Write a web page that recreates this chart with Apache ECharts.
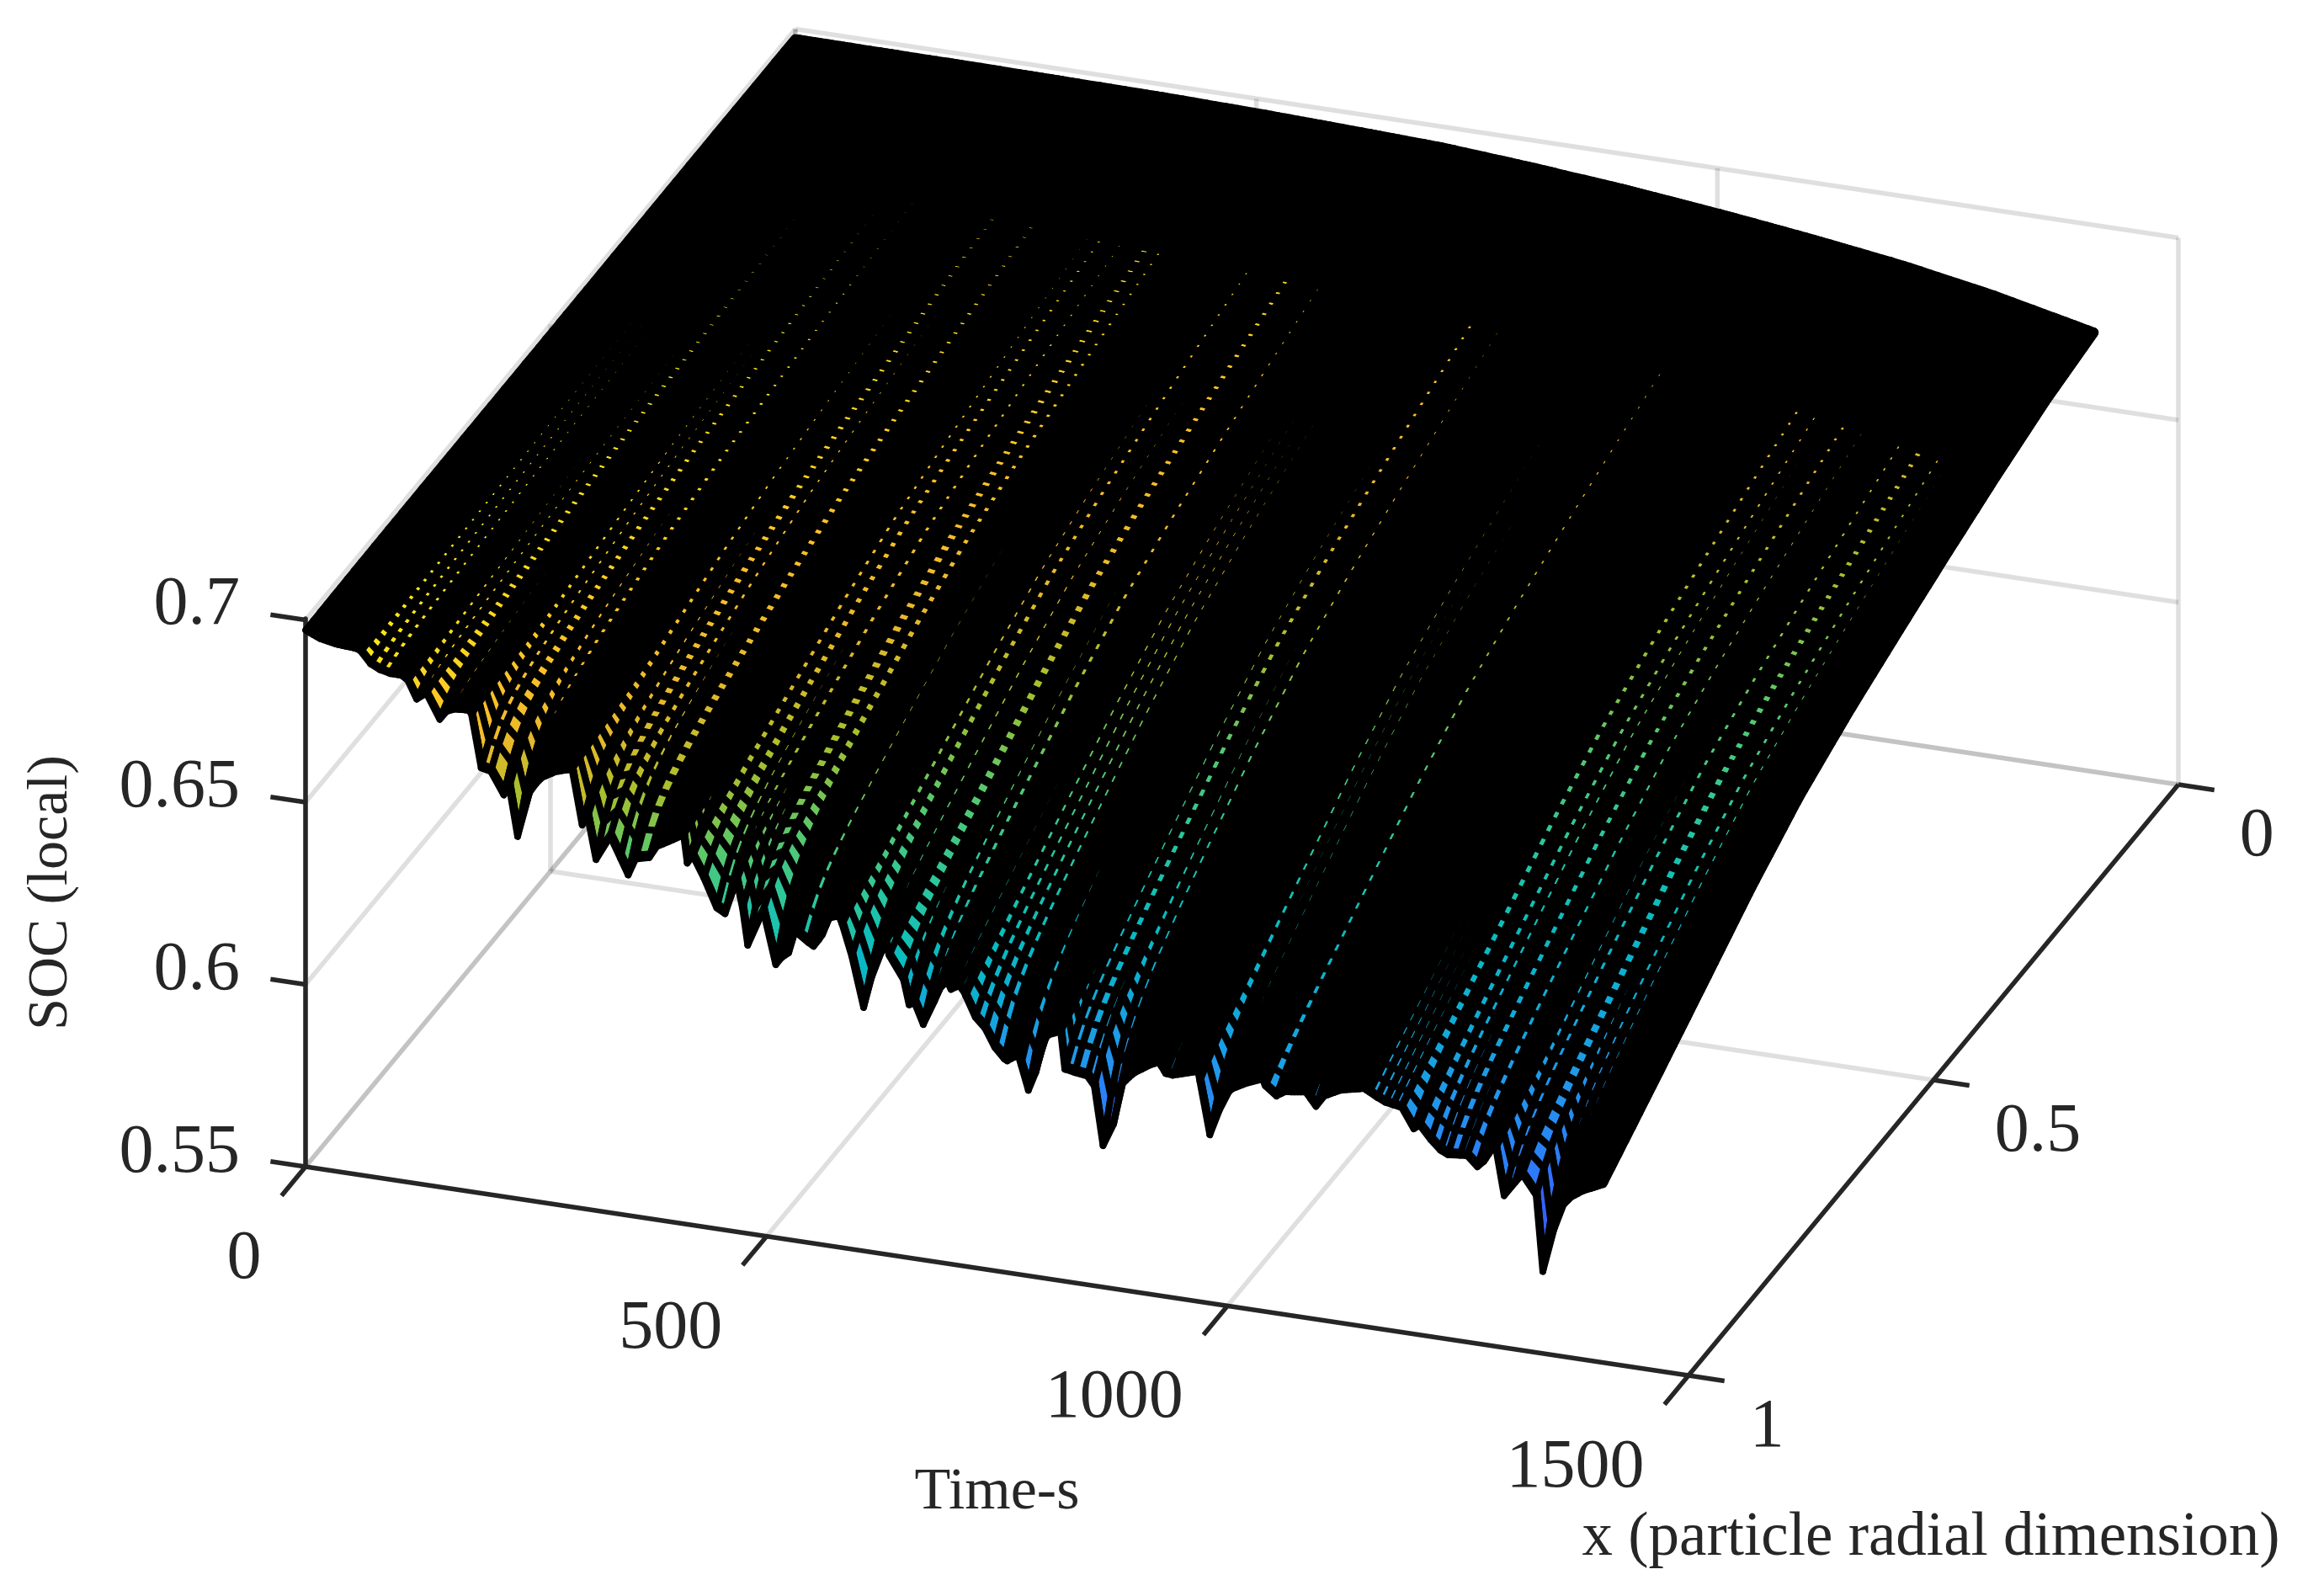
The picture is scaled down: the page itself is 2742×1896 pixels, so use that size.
<!DOCTYPE html>
<html><head><meta charset="utf-8"><style>html,body{margin:0;padding:0;background:#fff}#c{width:2742px;height:1896px}</style>
<script src="https://cdn.jsdelivr.net/npm/echarts@6/dist/echarts.min.js"></script></head><body><div id="c"></div>
<script>
// ---- values ----
const timeTicks=[0,500,1000,1500];
const radialTicks=[0,0.5,1];
const socTicks=[0.55,0.6,0.65,0.7];
// SOC along the particle surface x=1 (the jagged front edge)
const edgeTime=[0,15.5,34,55,60,66,79,92,105,111,117.5,120.5,131,134,139,145.5,155.5,177,180,184.5,189.5,198,209,215,221,225.5,230,236,245,256,271,289,294,300,306,311,315,321,330.5,335,346,350,358,365.5,378,393,410,414,420,429,437,446,451,455,463,467.5,472,479.6,482.7,487,496.4,505.5,510,513,517.7,524,531,542,551,560,568,578.6,587.7,597,605.3,607.5,615,629,633.5,639.5,644,648.5,654.6,660.7,670,680.5,688,694,696,700,709,715.5,718.5,727.6,739.8,744,749,761,773,784,787,797.6,803.7,819,823.5,834,843,848,851,855.5,860,865,873.7,880,883,898,916,925.5,933,940.7,968,971,975.7,980.8,983,989.5,997,1004.6,1020,1038,1044,1053,1062,1085,1096,1105,1123,1148,1169,1189,1193,1202,1208.5,1216,1224,1239,1260,1271,1275.5,1287.7,1291,1300,1303,1316.6,1319.6,1325.7,1328.7,1334.8,1339,1342,1344,1348.5,1357.6,1363.7,1372.8,1385,1408];
const edgeSoc=[.6972,.6955,.6946,.6943,.6937,.6913,.6895,.6888,.6888,.6876,.6836,.6829,.6849,.6846,.6794,.6783,.6816,.682,.681,.6746,.6667,.6667,.6644,.6602,.6625,.6546,.6494,.6581,.6631,.6665,.6687,.6701,.6619,.6552,.6577,.6525,.6463,.6506,.6532,.6488,.6469,.6434,.6481,.6447,.652,.6541,.6567,.6491,.6513,.6462,.645,.638,.644,.6368,.6429,.6465,.6425,.6291,.6292,.6358,.6392,.6314,.6249,.6252,.628,.6287,.6349,.6328,.6315,.6347,.64,.6408,.6353,.6257,.6168,.6169,.6271,.6354,.6317,.6315,.6259,.6261,.6194,.6201,.6146,.6204,.6253,.6256,.6275,.6254,.6267,.6248,.6211,.6184,.6154,.6152,.6096,.6081,.6101,.6009,.601,.6118,.6167,.6184,.6082,.6078,.6062,.6072,.605,.6048,.599,.5888,.5905,.6011,.6058,.6099,.6129,.614,.6112,.611,.6131,.6092,.6009,.5962,.5966,.6022,.6075,.6097,.6118,.6137,.6101,.6096,.6111,.6119,.6084,.6116,.6139,.6153,.6125,.6116,.6073,.6063,.6075,.6062,.6023,.6006,.6011,.5985,.5992,.6043,.6044,.5917,.592,.5977,.5983,.589,.5891,.5931,.5763,.5725,.5728,.5805,.587,.5915,.5941,.5962,.5989];
// upper envelope of that edge, ignoring the spikes
const envelopeTime=[0,55,105,177,289,410,578,696,819,925,1038,1148,1240,1300,1408];
const envelopeSoc=[.6972,.6943,.6888,.682,.6701,.6567,.6408,.6275,.6184,.614,.6137,.6153,.608,.604,.5989];
// SOC along the particle centre x=0 (the far edge)
const backTime=[0,200,400,500,600,700,800,900,1000,1100,1200,1300,1408];
const backSoc=[.6972,.697,.6965,.696,.6952,.6943,.6925,.6903,.6876,.6845,.681,.6765,.6705];
// how the SOC falls from centre to surface (0 = centre value, 1 = surface value)
const radialX=[0,.1,.2,.3,.4,.5,.6,.7,.8,.9,1];
const radialFall=[0,.04,.1,.17,.245,.325,.42,.55,.70,.85,1];
// how far a surface spike reaches into the particle
const spikeX=[.4,.6,.7,.8,.85,.9,.92,.94,.96,.97,.98,.99,1];
const spikeShare=[0,.005,.015,.04,.07,.13,.18,.25,.37,.47,.6,.78,1];
// solver time steps: [from, to, step] (narrow steps close up to solid black)
const timeSteps=[[0,60,4],[60,92,10.5],[92,111,4],[111,162,10.5],[162,180,4],[180,250,10.5],[250,289,3.5],[289,381,10.5],[381,411,3.5],[411,524,10.5],[524,536,5],[536,557,9.5],[557,582,3.5],[582,625,10.5],[625,633,4],[633,682,10.5],[682,716,6.5],[716,761,10.5],[761,776,4],[776,792,10.5],[792,824,3.5],[824,886,10.5],[886,933,3.5],[933,947,8.5],[947,970,3.5],[970,1002,10.5],[1002,1041,3.5],[1041,1059,8.5],[1059,1090,3.5],[1090,1105,8.5],[1105,1154,3.5],[1154,1189,8.5],[1189,1260,10.5],[1260,1280,9],[1280,1291,3.5],[1291,1366,10.5],[1366,1408.01,3.5]];
const radialSteps=[[0,.2,.02],[.2,1.0001,.014]];
// mesh line weight, thinner where the surface is steep at the front edge
const lineX=[.2,.4,.5,.65,.8,.88,.93,.97,1];
const lineWeight=[12,11.2,10.8,10.45,10.25,9.8,9.2,8.6,8];
const socPalette=['#4040f0','#3c52fa','#3368fc','#2a80f8','#2296ec','#10abd8','#08bcc0','#2cc79c','#5ac86a','#aabf2c','#e6b92a','#ffc028','#fbe018','#f8f40c'];

// ---- view of the 3-D box on the page ----
const view={ox:363,oy:1386,tx:1643,ty:248,rx:582,ry:702,zScale:4330};
const timeMax=1500,socMin=.55,socMax=.7;
function project(t,x,z){
  return [view.ox+view.tx*t/timeMax+view.rx*(1-x), view.oy+view.ty*t/timeMax-view.ry*(1-x)-(z-socMin)*view.zScale];
}
function lookup(xs,ys,v){
  if(v<=xs[0])return ys[0];
  for(let i=1;i<xs.length;i++){ if(v<=xs[i]){const f=(v-xs[i-1])/(xs[i]-xs[i-1]);return ys[i-1]+f*(ys[i]-ys[i-1]);} }
  return ys[ys.length-1];
}
function expand(bands){const out=[];bands.forEach(b=>{for(let v=b[0];v<b[1]-1e-6;v+=b[2])out.push(+v.toFixed(4));});out.push(bands[bands.length-1][1]);return out;}
const meshT=expand(timeSteps), meshX=expand(radialSteps);
meshT[meshT.length-1]=1408; meshX[meshX.length-1]=1;
// keep the spike tips on a mesh line
for(let i=1;i<edgeTime.length-1;i++){
  const minimum=edgeSoc[i]<edgeSoc[i-1]&&edgeSoc[i]<edgeSoc[i+1];
  const maximum=edgeSoc[i]>edgeSoc[i-1]&&edgeSoc[i]>edgeSoc[i+1];
  if(minimum||maximum){
    let best=0,d=1e9;meshT.forEach((t,k)=>{const e=Math.abs(t-edgeTime[i]);if(e<d){d=e;best=k;}});
    if(d<6&&best>0&&best<meshT.length-1)meshT[best]=edgeTime[i];
  }
}
function soc(t,x){
  const back=lookup(backTime,backSoc,t), env=lookup(envelopeTime,envelopeSoc,t), edge=lookup(edgeTime,edgeSoc,t);
  return back-(back-env)*lookup(radialX,radialFall,x)+(edge-env)*lookup(spikeX,spikeShare,x);
}
const Z=meshX.map(x=>meshT.map(t=>soc(t,x)));
const cells=[];
for(let i=0;i<meshX.length-1;i++)for(let j=0;j<meshT.length-1;j++){
  const a=Z[i][j],b=Z[i][j+1],c=Z[i+1][j+1],d=Z[i+1][j];
  cells.push([meshT[j],meshT[j+1],meshX[i],meshX[i+1],a,b,c,d,(a+b+c+d)/4]);
}
// grid and box lines: [t0,x0,z0,t1,x1,z1]
const gridLines=[];
socTicks.forEach(z=>{gridLines.push([0,0,z,0,1,z]);gridLines.push([0,0,z,timeMax,0,z]);});
timeTicks.forEach(t=>{gridLines.push([t,0,socMin,t,0,socMax]);if(t>0&&t<timeMax)gridLines.push([t,0,socMin,t,1,socMin]);});
gridLines.push([0,0,socMin,0,1,socMin]);gridLines.push([0,0,socMin,timeMax,0,socMin]);
radialTicks.forEach(x=>{gridLines.push([0,x,socMin,0,x,socMax]);if(x===.5)gridLines.push([0,x,socMin,timeMax,x,socMin]);});
const axisLines=[[0,1,socMin,timeMax,1,socMin],[timeMax,0,socMin,timeMax,1,socMin]];
timeTicks.forEach(t=>axisLines.push([t,1,socMin,t,1.049,socMin]));
radialTicks.forEach(x=>axisLines.push([timeMax,x,socMin,timeMax+39,x,socMin]));
socTicks.forEach(z=>axisLines.push([0,1,z,-38,1,z]));
const font='"Liberation Serif","Times New Roman",serif';
const texts=[];
timeTicks.forEach(t=>texts.push({text:String(t),p:[t,1.049,socMin],dx:-24,dy:76,align:'right',size:82}));
radialTicks.forEach(x=>texts.push({text:String(x),p:[timeMax+39,x,socMin],dx:30,dy:56,align:'left',size:82}));
texts.push({text:'Time-s',p:[750,1,socMin],dx:0,dy:264,align:'center',size:70});
texts.push({text:'x (particle radial dimension)',p:[timeMax,1,socMin],dx:288,dy:194,align:'center',size:73});

const lineItem=(style)=>function(params,api){
  const v=[0,1,2,3,4,5].map(i=>api.value(i));
  const a=api.coord(project(v[0],v[1],v[2])),b=api.coord(project(v[3],v[4],v[5]));
  return {type:'line',silent:true,shape:{x1:a[0],y1:a[1],x2:b[0],y2:b[1]},style:style};
};
const chart=echarts.init(document.getElementById('c'),null,{renderer:'canvas'});
chart.setOption({
  backgroundColor:'#fff',animation:false,
  grid:[{left:0,top:0,right:0,bottom:0},{left:363,top:735,width:10,height:651}],
  xAxis:[{type:'value',gridIndex:0,min:0,max:2742,show:false},{type:'value',gridIndex:1,show:false}],
  yAxis:[{type:'value',gridIndex:0,min:0,max:1896,inverse:true,show:false},
    {type:'value',gridIndex:1,min:socMin,max:socMax,interval:.05,
     axisLine:{show:true,lineStyle:{color:'#262626',width:5.5}},axisTick:{show:false},splitLine:{show:false},
     axisLabel:{fontFamily:font,fontSize:82,color:'#262626',margin:78,verticalAlign:'bottom',lineHeight:32,formatter:v=>String(+v.toFixed(2))},
     name:'SOC (local)',nameLocation:'middle',nameGap:268,nameTextStyle:{fontFamily:font,fontSize:68,color:'#262626'}}],
  visualMap:{show:false,type:'continuous',seriesIndex:1,dimension:8,min:.57,max:.70,inRange:{color:socPalette}},
  series:[
   {type:'custom',coordinateSystem:'cartesian2d',xAxisIndex:0,yAxisIndex:0,silent:true,z:1,data:gridLines,
    renderItem:lineItem({stroke:'rgba(38,38,38,0.15)',lineWidth:5.5})},
   {type:'custom',coordinateSystem:'cartesian2d',xAxisIndex:0,yAxisIndex:0,silent:true,z:2,progressive:0,data:cells,
    renderItem:function(params,api){
      const t0=api.value(0),t1=api.value(1),x0=api.value(2),x1=api.value(3);
      const pts=[project(t0,x0,api.value(4)),project(t1,x0,api.value(5)),project(t1,x1,api.value(6)),project(t0,x1,api.value(7))].map(p=>api.coord(p));
      return {type:'polygon',silent:true,shape:{points:pts},
        style:{fill:x0<.2?'#000':api.visual('color'),stroke:'#000',lineWidth:lookup(lineX,lineWeight,x1),lineJoin:'round'}};
    }},
   {type:'custom',coordinateSystem:'cartesian2d',xAxisIndex:0,yAxisIndex:0,silent:true,z:3,data:axisLines,
    renderItem:lineItem({stroke:'#262626',lineWidth:5.5})},
   {type:'custom',coordinateSystem:'cartesian2d',xAxisIndex:0,yAxisIndex:0,silent:true,z:4,data:texts.map((d,i)=>[i]),
    renderItem:function(params,api){
      const d=texts[api.value(0)],a=api.coord(project(d.p[0],d.p[1],d.p[2]));
      return {type:'text',silent:true,x:a[0]+d.dx,y:a[1]+d.dy,
        style:{text:d.text,fill:'#262626',font:d.size+'px '+font,align:d.align,verticalAlign:'middle'}};
    }}
  ]
});
</script></body></html>
